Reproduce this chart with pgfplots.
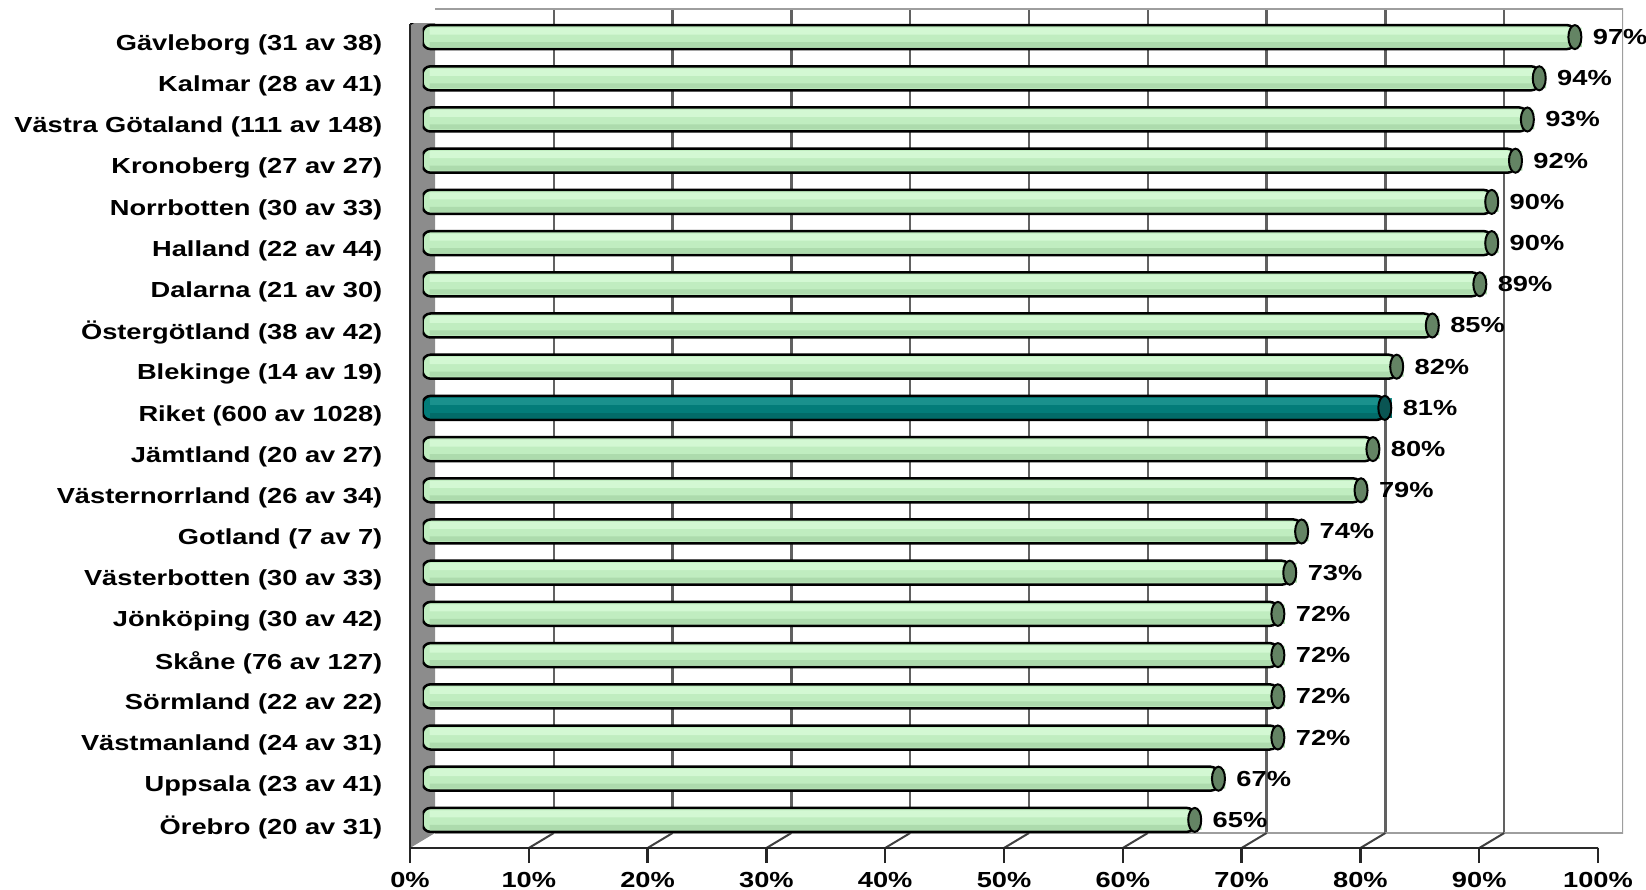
\documentclass[border=0pt]{standalone}
\usepackage{fontspec}
\setmainfont{Liberation Sans}[FakeStretch=1.25]
\usepackage{pgfplots}
\usepackage{pgfplotstable}
\pgfplotsset{compat=1.18}

\definecolor{barLight}{HTML}{D3F8D3}
\definecolor{barMid}{HTML}{C0EDC0}
\definecolor{barDark}{HTML}{ADDBAD}
\definecolor{barCap}{HTML}{648464}
\definecolor{riketMid}{HTML}{037C79}
\definecolor{riketLight}{HTML}{1A918D}
\definecolor{riketDark}{HTML}{026B68}
\definecolor{riketCap}{HTML}{0A5553}
\definecolor{wallGray}{HTML}{8C8C8C}

% end cap of a cylinder bar
\pgfdeclareplotmark{cap}{%
  \pgfpathellipse{\pgfpointorigin}{\pgfqpoint{0.65mm}{0pt}}{\pgfqpoint{0pt}{1.2mm}}%
  \pgfusepathqfillstroke}

% y = row from the bottom (0 = Örebro), x = share in percent
\pgfplotstableread{
y x
0 65
1 67
2 72
3 72
4 72
5 72
6 73
7 74
8 79
9 80
11 82
12 85
13 89
14 90
15 90
16 92
17 93
18 94
19 97
}\regions
\pgfplotstableread{
y x
10 81
}\riket

\newcommand{\lab}{\bfseries\fontsize{6.2}{7}\selectfont}

\begin{document}
\begin{tikzpicture}[font=\lab]
\path[use as bounding box] (0,0) rectangle (164.6mm,88.9mm);
\pgfplotsset{frame/.style={scale only axis, width=118.8mm, height=82.4mm,
    xmin=0, xmax=100, ymin=-0.5, ymax=19.5, anchor=south west}}

% back wall
\begin{axis}[frame, at={(43.5mm,5.6mm)}, axis line style={draw=none},
    xtick={10,20,...,90}, xticklabels={}, ytick=\empty, xmajorgrids,
    major grid style={color=black!62, line width=0.25mm}, tick style={draw=none}]
  \draw[black!38, line width=0.25mm] (axis cs:0,19.5) -- (axis cs:100,19.5)
    -- (axis cs:100,-0.5) -- (axis cs:0,-0.5);
\end{axis}

% front: side wall, floor, ticks and labels
\begin{axis}[frame, at={(41mm,4.1mm)}, axis lines*=left, axis on top,
    axis line style={black!85, line width=0.25mm},
    xtick={0,10,...,100},
    xticklabels={0\%,10\%,20\%,30\%,40\%,50\%,60\%,70\%,80\%,90\%,100\%},
    ytick={0,...,19},
    yticklabels={Örebro (20 av 31),Uppsala (23 av 41),Västmanland (24 av 31),
      Sörmland (22 av 22),Skåne (76 av 127),Jönköping (30 av 42),
      Västerbotten (30 av 33),Gotland (7 av 7),Västernorrland (26 av 34),
      Jämtland (20 av 27),Riket (600 av 1028),Blekinge (14 av 19),
      Östergötland (38 av 42),Dalarna (21 av 30),Halland (22 av 44),
      Norrbotten (30 av 33),Kronoberg (27 av 27),Västra Götaland (111 av 148),
      Kalmar (28 av 41),Gävleborg (31 av 38)},
    tick align=outside, major tick length=1.5mm,
    xtick style={black!85, line width=0.25mm}, ytick style={draw=none},
    tick label style={font=\lab},
    yticklabel style={inner sep=0pt, xshift=-1.2mm},
    xticklabel style={inner sep=0pt, yshift=-0.9mm}]
  \fill[wallGray] (axis cs:0,-0.5) -- (axis cs:0,19.5)
    -- ([shift={(2.5mm,1.5mm)}]axis cs:0,19.5)
    -- ([shift={(2.5mm,1.5mm)}]axis cs:0,-0.5) -- cycle;
  \draw[black, line width=0.25mm] (axis cs:0,19.5) -- ++(2.5mm,1.5mm);
  \pgfplotsinvokeforeach{10,20,...,100}{
    \draw[black!75, line width=0.2mm] (axis cs:#1,-0.5) -- ++(2.5mm,1.5mm);
  }
  \pgfplotsinvokeforeach{-0.5,0.5,...,19.5}{
    \draw[black!85, line width=0.25mm] (axis cs:0,#1) -- ++(-1.9mm,0);
  }
\end{axis}

% bars, half way back
\begin{axis}[frame, at={(42.25mm,4.85mm)}, hide axis]
  \addplot[xbar, bar width=2.4mm, bar shift=0pt, fill=barMid, draw=black,
    line width=0.25mm, rounded corners=0.8mm] table[x=x,y=y]{\regions};
  \addplot[xbar, bar width=2.4mm, bar shift=0pt, fill=riketMid, draw=black,
    line width=0.25mm, rounded corners=0.8mm] table[x=x,y=y]{\riket};
  % upper highlight and lower shade of the cylinders
  \addplot[xbar, bar width=0.7mm, bar shift=0.6mm, fill=barLight, draw=none,
    xshift=0.7mm] table[x=x,y=y]{\regions};
  \addplot[xbar, bar width=0.5mm, bar shift=-0.75mm, fill=barDark, draw=none,
    xshift=0.7mm] table[x=x,y=y]{\regions};
  \addplot[xbar, bar width=0.7mm, bar shift=0.6mm, fill=riketLight, draw=none,
    xshift=0.7mm] table[x=x,y=y]{\riket};
  \addplot[xbar, bar width=0.5mm, bar shift=-0.75mm, fill=riketDark, draw=none,
    xshift=0.7mm] table[x=x,y=y]{\riket};
  \addplot[only marks, mark=cap, mark options={fill=barCap, draw=black, line width=0.2mm},
    point meta=x, nodes near coords={\pgfmathprintnumber[fixed,precision=0,assume math mode=true]{\pgfplotspointmeta}\%},
    every node near coord/.append style={font=\lab, anchor=west, inner sep=0pt, xshift=1.7mm}]
    table[x=x,y=y]{\regions};
  \addplot[only marks, mark=cap, mark options={fill=riketCap, draw=black, line width=0.2mm},
    point meta=x, nodes near coords={\pgfmathprintnumber[fixed,precision=0,assume math mode=true]{\pgfplotspointmeta}\%},
    every node near coord/.append style={font=\lab, anchor=west, inner sep=0pt, xshift=1.7mm}]
    table[x=x,y=y]{\riket};
\end{axis}
\end{tikzpicture}
\end{document}
